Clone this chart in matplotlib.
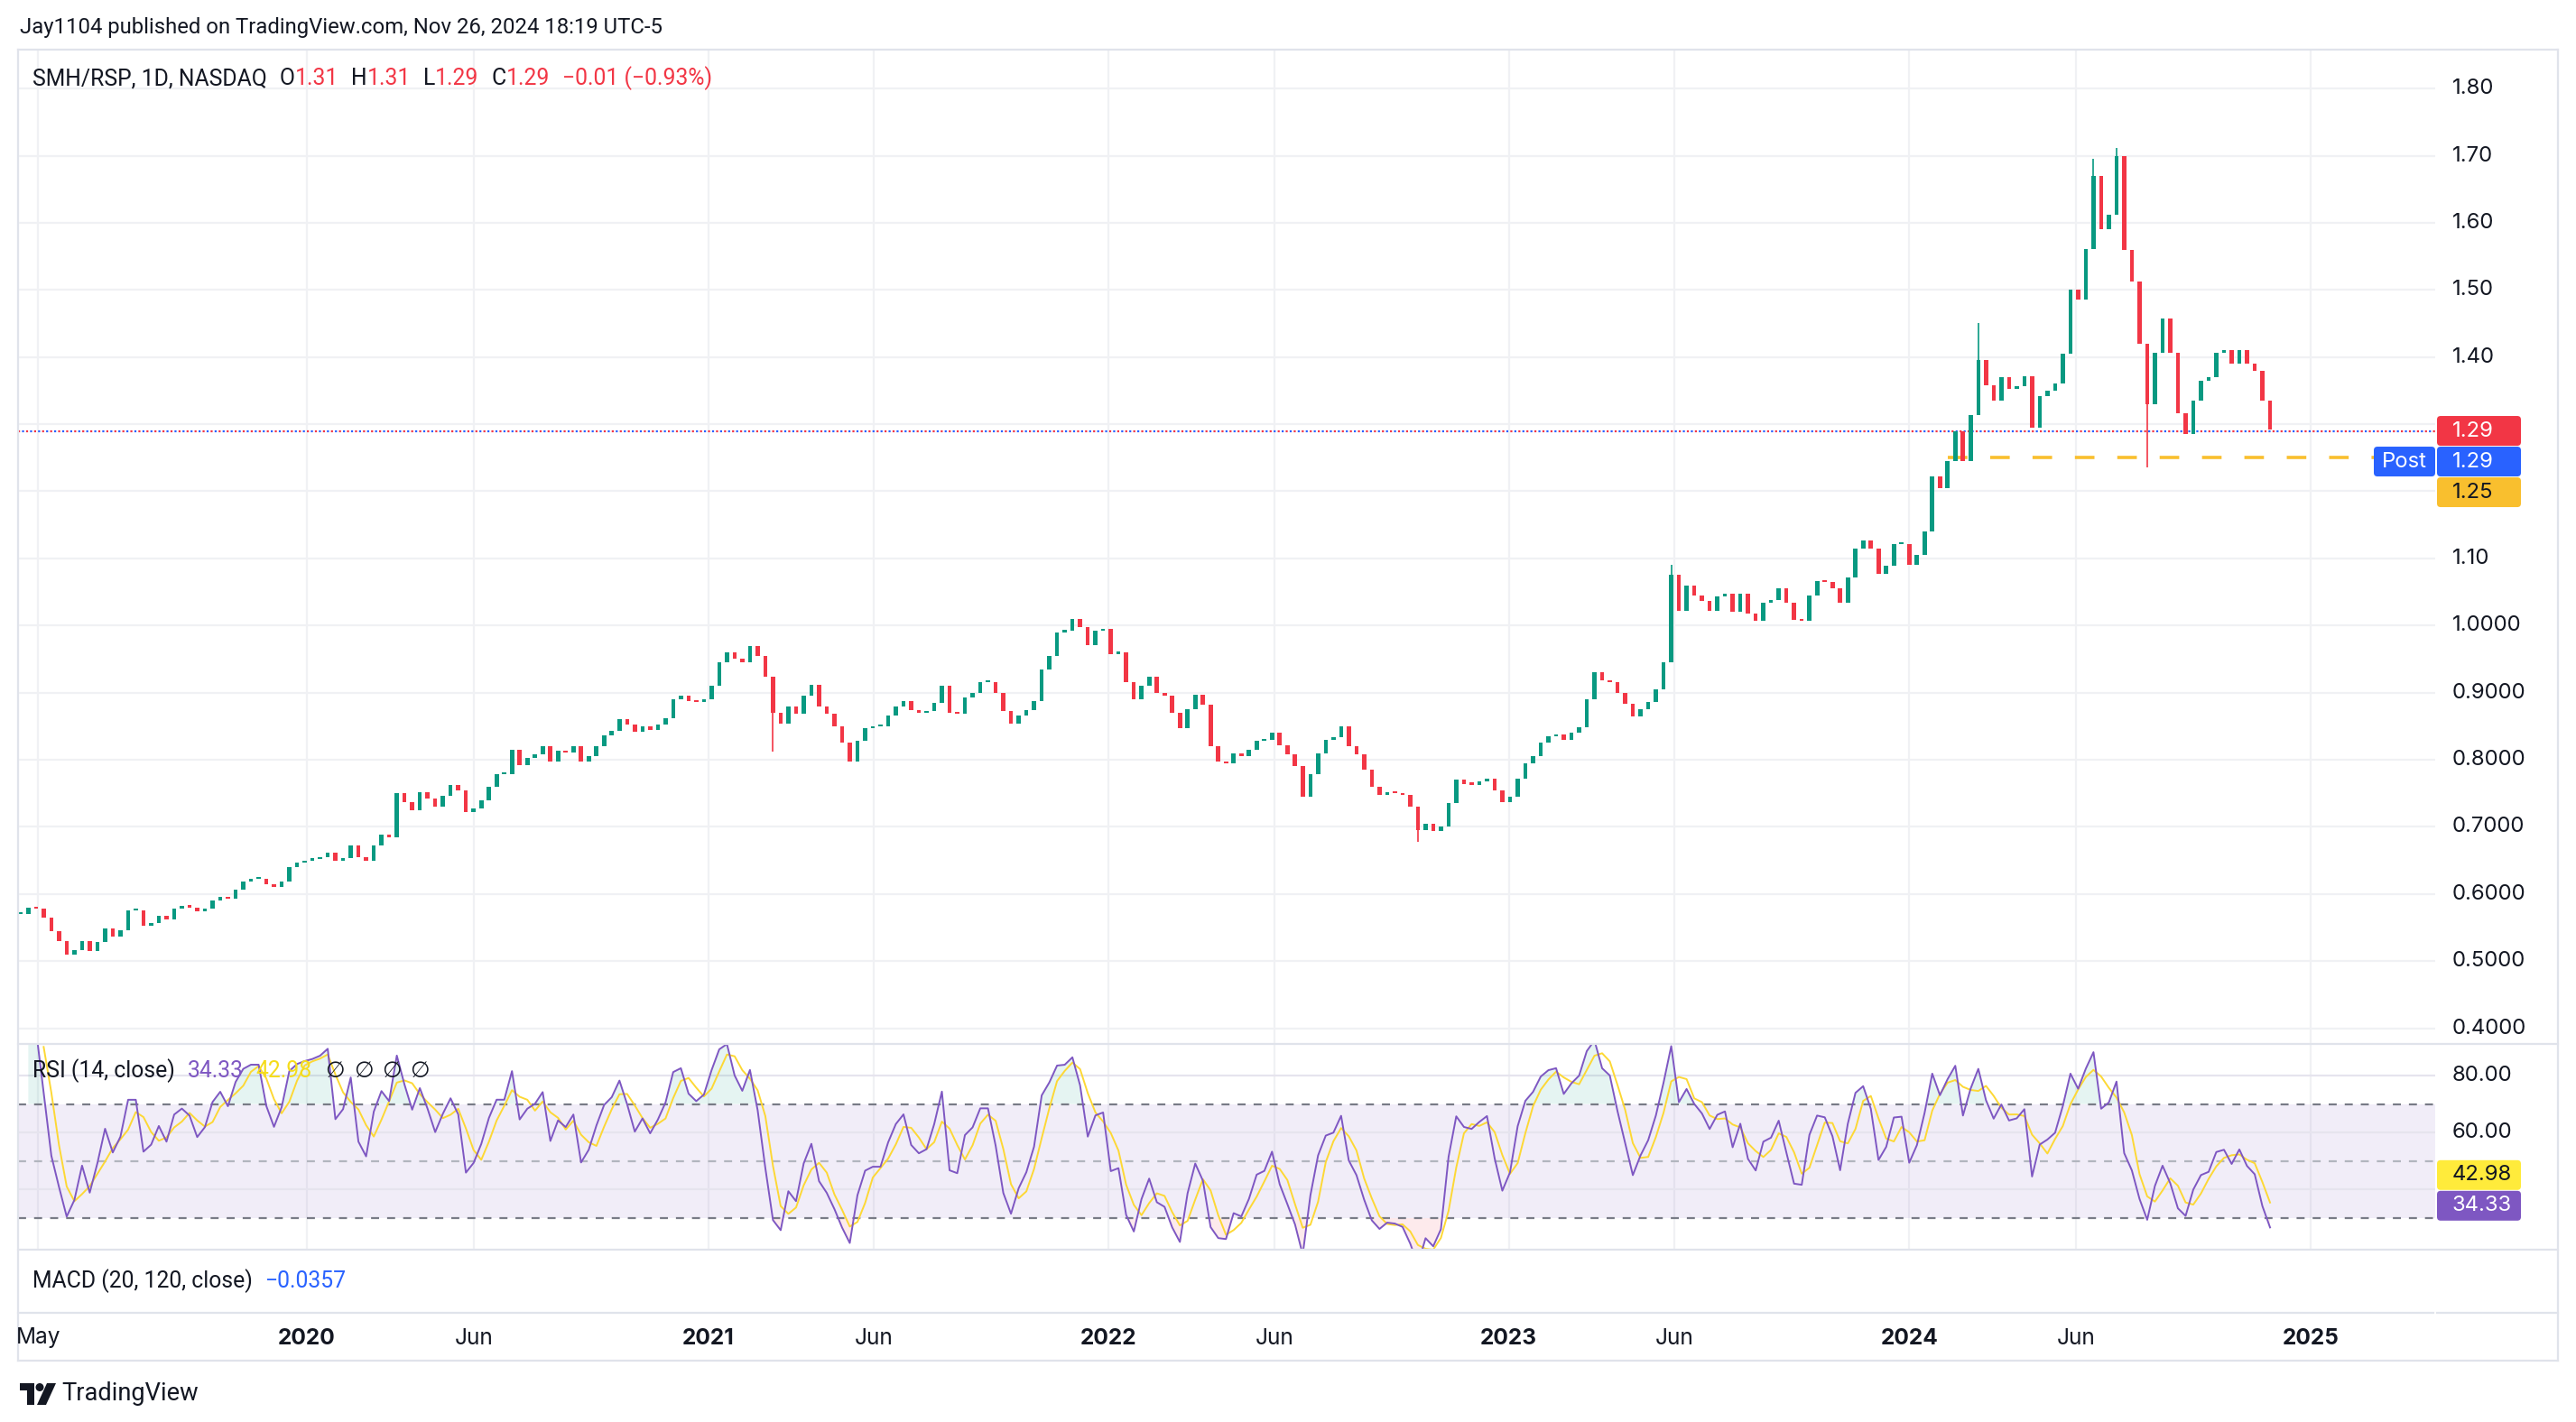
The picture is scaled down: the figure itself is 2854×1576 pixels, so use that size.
import matplotlib
matplotlib.use("Agg")
import matplotlib.pyplot as plt
import matplotlib.dates as mdates
import matplotlib.transforms as mtransforms
from matplotlib.patches import FancyBboxPatch, Polygon, Circle
from matplotlib.lines import Line2D
import numpy as np
import pandas as pd

W, H, DPI = 2854, 1576, 200

# --- data: weekly closes of SMH/RSP, one per week from first_week ---
first_week = "2019-04-15"
weekly_close = [
    0.570, 0.580, 0.578, 0.565, 0.545, 0.530, 0.510, 0.516, 0.530, 0.515,
    0.528, 0.548, 0.537, 0.546, 0.575, 0.575, 0.553, 0.557, 0.568, 0.562,
    0.578, 0.582, 0.580, 0.574, 0.578, 0.590, 0.596, 0.593, 0.607, 0.618,
    0.622, 0.622, 0.615, 0.611, 0.618, 0.640, 0.647, 0.650, 0.652, 0.655,
    0.662, 0.650, 0.654, 0.672, 0.655, 0.650, 0.672, 0.688, 0.685, 0.750,
    0.737, 0.725, 0.752, 0.742, 0.730, 0.746, 0.762, 0.755, 0.722, 0.728,
    0.740, 0.760, 0.778, 0.778, 0.815, 0.792, 0.803, 0.808, 0.820, 0.798,
    0.814, 0.811, 0.820, 0.798, 0.805, 0.820, 0.836, 0.843, 0.860, 0.852,
    0.842, 0.850, 0.845, 0.852, 0.862, 0.890, 0.895, 0.888, 0.886, 0.890,
    0.910, 0.945, 0.960, 0.950, 0.945, 0.970, 0.955, 0.924, 0.870, 0.854,
    0.879, 0.868, 0.895, 0.912, 0.880, 0.868, 0.850, 0.825, 0.798, 0.828,
    0.847, 0.850, 0.850, 0.866, 0.880, 0.888, 0.874, 0.870, 0.872, 0.885,
    0.910, 0.870, 0.868, 0.893, 0.899, 0.915, 0.915, 0.900, 0.872, 0.854,
    0.866, 0.874, 0.888, 0.935, 0.955, 0.990, 0.992, 1.010, 0.998, 0.971,
    0.992, 0.995, 0.958, 0.960, 0.915, 0.890, 0.910, 0.924, 0.900, 0.895,
    0.870, 0.847, 0.875, 0.897, 0.882, 0.820, 0.797, 0.795, 0.810, 0.806,
    0.815, 0.828, 0.830, 0.840, 0.822, 0.808, 0.790, 0.745, 0.778, 0.810,
    0.830, 0.833, 0.850, 0.820, 0.808, 0.785, 0.760, 0.748, 0.751, 0.750,
    0.747, 0.730, 0.695, 0.705, 0.694, 0.700, 0.735, 0.770, 0.764, 0.763,
    0.768, 0.772, 0.755, 0.737, 0.745, 0.772, 0.795, 0.805, 0.825, 0.835,
    0.838, 0.830, 0.840, 0.848, 0.890, 0.930, 0.918, 0.915, 0.900, 0.884,
    0.864, 0.876, 0.886, 0.905, 0.945, 1.075, 1.022, 1.060, 1.045, 1.036,
    1.022, 1.043, 1.048, 1.021, 1.048, 1.018, 1.007, 1.034, 1.038, 1.055,
    1.034, 1.008, 1.007, 1.045, 1.066, 1.065, 1.055, 1.034, 1.072, 1.115,
    1.127, 1.114, 1.077, 1.089, 1.121, 1.122, 1.090, 1.105, 1.140, 1.222,
    1.205, 1.245, 1.290, 1.245, 1.314, 1.395, 1.358, 1.335, 1.370, 1.352,
    1.356, 1.372, 1.295, 1.342, 1.350, 1.360, 1.405, 1.500, 1.485, 1.561,
    1.670, 1.590, 1.612, 1.700, 1.560, 1.513, 1.420, 1.330, 1.406, 1.458,
    1.406, 1.316, 1.285, 1.335, 1.364, 1.370, 1.406, 1.410, 1.390, 1.410,
    1.390, 1.380, 1.335, 1.292,
]
# long wicks that stand out (week number, extreme price)
spike_weeks = [98, 182, 215, 255, 270, 273, 277]
spike_prices = [0.812, 0.678, 1.090, 1.451, 1.695, 1.712, 1.235]

last_price = 1.29
support_level = 1.25
support_start = "2024-02-05"
rsi_last = 34.33
rsi_ma_last = 42.98
RSI_WEEKS = 6   # weekly stand-in for the 14-day RSI
RSI_MA_WEEKS = 3

price_ticks = [1.80, 1.70, 1.60, 1.50, 1.40, 1.10, 1.00, 0.90, 0.80, 0.70, 0.60, 0.50, 0.40]
price_tick_labels = ["1.80", "1.70", "1.60", "1.50", "1.40", "1.10", "1.0000", "0.9000",
                     "0.8000", "0.7000", "0.6000", "0.5000", "0.4000"]
rsi_ticks = [80, 60]
rsi_tick_labels = ["80.00", "60.00"]
time_ticks = ["2019-05-01", "2020-01-01", "2020-06-01", "2021-01-01", "2021-06-01", "2022-01-01",
              "2022-06-01", "2023-01-01", "2023-06-01", "2024-01-01", "2024-06-01", "2025-01-01"]
time_labels = ["May", "2020", "Jun", "2021", "Jun", "2022", "Jun", "2023", "Jun", "2024", "Jun", "2025"]

UP, DOWN = "#089981", "#f23645"
TEXT = "#131722"
GRID = "#f0f1f4"
BORDER = "#e0e3eb"
PURPLE = "#7e57c2"
YELLOW = "#fdd835"
BLUE = "#2962ff"
AMBER = "#f9bf2e"

plt.rcParams["font.family"] = ["Roboto", "DejaVu Sans"]
NUM_FONT = ["Inter", "DejaVu Sans"]
ID = mtransforms.IdentityTransform()

fig = plt.figure(figsize=(W / DPI, H / DPI), dpi=DPI, facecolor="white")


def add_ax(top, bottom, left=20, right=2698):
    return fig.add_axes([left / W, 1 - bottom / H, (right - left) / W, (bottom - top) / H])


ax = add_ax(55, 1157)
ax_rsi = add_ax(1157, 1385)
ax_macd = add_ax(1385, 1455)

# x range: 1.2151 px per calendar day, Jan 1 2020 at x=340
d2020 = mdates.date2num(pd.Timestamp("2020-01-01"))
xl = d2020 - 320 / 1.2151
xr = d2020 + 2358 / 1.2151
for a in (ax, ax_rsi, ax_macd):
    a.set_xlim(xl, xr)
    a.set_axis_off()
ax.set_ylim(0.3766, 1.858)
ax_rsi.set_ylim(18.92, 91.08)
ax_macd.set_ylim(0, 1)

tick_x = mdates.date2num(pd.to_datetime(time_ticks))
for a in (ax, ax_rsi):
    for tx in tick_x:
        a.axvline(tx, color=GRID, lw=0.8, zorder=0)
for p in np.arange(0.4, 1.81, 0.1):
    ax.axhline(p, color=GRID, lw=0.8, zorder=0)

# --- candles ---
weeks = pd.date_range(first_week, periods=len(weekly_close), freq="7D")
xs = mdates.date2num(weeks)
close = np.array(weekly_close)
opens = np.r_[close[0], close[:-1]]
colors = [UP if c >= o else DOWN for o, c in zip(opens, close)]
body_lo = np.minimum(opens, close)
body_h = np.maximum(np.abs(close - opens), 0.003)
ax.bar(xs, body_h, bottom=body_lo, width=3.8, color=colors, zorder=3, linewidth=0)
for k, p in zip(spike_weeks, spike_prices):
    lo, hi = min(p, body_lo[k]), max(p, body_lo[k] + body_h[k])
    ax.vlines(xs[k], lo, hi, color=colors[k], lw=0.6, zorder=3)

# last price (red / blue alternating dots) and support line
ax.axhline(last_price, color=DOWN, lw=0.8, ls=(0, (1, 3)), zorder=2)
ax.axhline(last_price, color=BLUE, lw=0.8, ls=(2, (1, 3)), zorder=2)
ax.hlines(support_level, mdates.date2num(pd.Timestamp(support_start)), xr,
          color=AMBER, lw=1.3, linestyles=(0, (6, 7)), zorder=2)

# --- RSI pane ---
cs = pd.Series(close)
delta = cs.diff()
gain = delta.clip(lower=0).ewm(alpha=1 / RSI_WEEKS, adjust=False).mean()
loss = (-delta.clip(upper=0)).ewm(alpha=1 / RSI_WEEKS, adjust=False).mean()
rsi = 100 - 100 / (1 + gain / loss)
rsi_ma = rsi.rolling(RSI_MA_WEEKS).mean()

ax_rsi.axhspan(30, 70, color=PURPLE, alpha=0.1, lw=0, zorder=0)
for v in (40, 60, 80):
    ax_rsi.axhline(v, color="#e6e4ee", lw=0.8, zorder=1)
ax_rsi.axhline(70, color="#787b86", lw=0.8, ls=(0, (4, 4)), zorder=2)
ax_rsi.axhline(30, color="#787b86", lw=0.8, ls=(0, (4, 4)), zorder=2)
ax_rsi.axhline(50, color="#b2b5be", lw=0.8, ls=(0, (4, 4)), zorder=2)
ax_rsi.fill_between(xs, 70, rsi, where=rsi > 70, color=UP, alpha=0.1, lw=0, interpolate=True)
ax_rsi.fill_between(xs, 30, rsi, where=rsi < 30, color=DOWN, alpha=0.1, lw=0, interpolate=True)
ax_rsi.plot(xs, rsi, color=PURPLE, lw=0.7, zorder=4)
ax_rsi.plot(xs, rsi_ma, color=YELLOW, lw=0.7, zorder=3)


# --- helpers in pixel coordinates (y measured from top) ---
def ftext(x, y, s, **kw):
    return fig.text(x, H - y, s, transform=ID, **kw)


def hline(x0, x1, y, color=BORDER, lw=0.8):
    fig.add_artist(Line2D([x0, x1], [H - y, H - y], transform=ID, color=color, lw=lw))


def vline(x, y0, y1, color=BORDER, lw=0.8):
    fig.add_artist(Line2D([x, x], [H - y0, H - y1], transform=ID, color=color, lw=lw))


def y_of(a, v):
    return H - a.transData.transform((xl, v))[1]


def badge(yc, text, fc, tc, x0=2700, x1=2793, h=33):
    fig.add_artist(FancyBboxPatch((x0, H - yc - h / 2), x1 - x0, h,
                                  boxstyle="round,pad=0,rounding_size=4", transform=ID,
                                  fc=fc, ec="none"))
    ftext(2717, yc, text, color=tc, fontsize=8.6, va="center", ha="left", family=NUM_FONT)


def text_runs(x, y, runs, size):
    r = fig.canvas.get_renderer()
    for s, c, gap in runs:
        x += gap
        t = ftext(x, y, s, color=c, fontsize=size, va="center", ha="left")
        x = t.get_window_extent(renderer=r).x1


# frame
for yy in (55, 1157, 1385, 1508):
    hline(20, 2834, yy)
hline(20, 2696, 1455)
hline(2700, 2834, 1455)
vline(20, 55, 1508)
vline(2834, 55, 1508)

# price axis labels
for v, s in zip(price_ticks, price_tick_labels):
    ftext(2717, y_of(ax, v), s, color=TEXT, fontsize=8.6, va="center", ha="left", family=NUM_FONT)
for v, s in zip(rsi_ticks, rsi_tick_labels):
    ftext(2717, y_of(ax_rsi, v), s, color=TEXT, fontsize=8.6, va="center", ha="left", family=NUM_FONT)

# price badges (stacked to avoid overlap)
y_last = y_of(ax, last_price)
badge(y_last, f"{last_price:.2f}", DOWN, "white")
badge(y_last + 34, f"{last_price:.2f}", BLUE, "white")
badge(max(y_of(ax, support_level), y_last + 68), f"{support_level:.2f}", AMBER, TEXT)
fig.add_artist(FancyBboxPatch((2630, H - (y_last + 34) - 16.5), 68, 33,
                              boxstyle="round,pad=0,rounding_size=4", transform=ID,
                              fc=BLUE, ec="none"))
ftext(2664, y_last + 34, "Post", color="white", fontsize=8.6, va="center", ha="center",
      family=NUM_FONT)

y_rsi = y_of(ax_rsi, rsi_last)
badge(y_rsi, f"{rsi_last:.2f}", PURPLE, "white")
badge(min(y_of(ax_rsi, rsi_ma_last), y_rsi - 34), f"{rsi_ma_last:.2f}", "#ffeb3b", TEXT)

# time axis
for tx, s in zip(tick_x, time_labels):
    xp = ax.transData.transform((tx, 1))[0]
    bold = s.isdigit()
    ftext(xp, 1483, s, color=TEXT, fontsize=8.8, va="center", ha="center",
          fontweight="bold" if bold else "normal", family=NUM_FONT)

# header and legends
ftext(22, 31, "Jay1104 published on TradingView.com, Nov 26, 2024 18:19 UTC-5",
      color=TEXT, fontsize=8.6, va="center", ha="left")
text_runs(36, 87, [
    ("SMH/RSP, 1D, NASDAQ", TEXT, 0), ("O", TEXT, 14), ("1.31", DOWN, 0),
    ("H", TEXT, 14), ("1.31", DOWN, 0), ("L", TEXT, 14), ("1.29", DOWN, 0),
    ("C", TEXT, 14), ("1.29", DOWN, 0), ("−0.01 (−0.93%)", DOWN, 14),
], 8.9)
text_runs(36, 1187, [
    ("RSI (14, close)", TEXT, 0), ("34.33", PURPLE, 14), ("42.98", "#f5dc1a", 14),
    ("∅", TEXT, 14), ("∅", TEXT, 10), ("∅", TEXT, 10), ("∅", TEXT, 10),
], 8.9)
text_runs(36, 1420, [("MACD (20, 120, close)", TEXT, 0), ("−0.0357", BLUE, 14)], 8.9)

# TradingView footer logo
lx, ly = 22, 1533
fig.add_artist(Polygon([(lx, H - ly), (lx + 16, H - ly), (lx + 16, H - ly - 24), (lx + 8, H - ly - 24),
                        (lx + 8, H - ly - 8), (lx, H - ly - 8)], closed=True, transform=ID, fc=TEXT, ec="none"))
fig.add_artist(Circle((lx + 22, H - ly - 4.5), 4.5, transform=ID, fc=TEXT, ec="none"))
fig.add_artist(Polygon([(lx + 30, H - ly), (lx + 40, H - ly), (lx + 29, H - ly - 24), (lx + 19, H - ly - 24)],
                       closed=True, transform=ID, fc=TEXT, ec="none"))
ftext(68, 1545, "TradingView", color=TEXT, fontsize=9.8, va="center", ha="left")

fig.savefig("out.png", dpi=DPI, facecolor="white")
